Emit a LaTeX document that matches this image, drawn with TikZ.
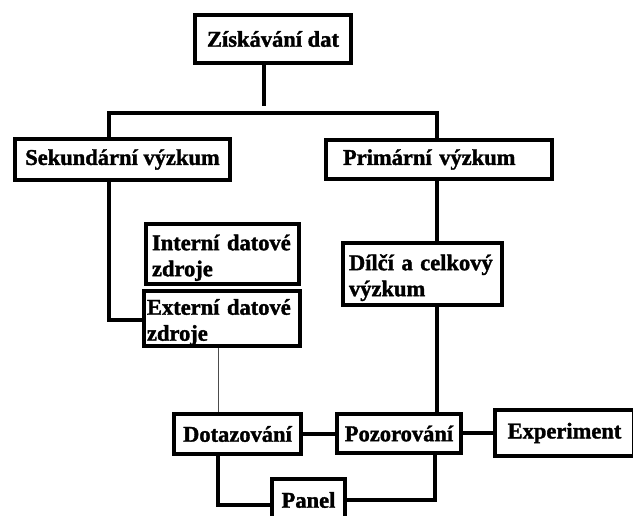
\documentclass[tikz,border=0pt]{standalone}
\usepackage{fontspec}
\setmainfont{Liberation Serif}[BoldFeatures={FakeBold=1.5}]
\newcommand\lowtext[1]{\raisebox{-4pt}[\height][\depth]{\begin{tabular}{@{}l@{}}#1\end{tabular}}}
\begin{document}
\begin{tikzpicture}[x=1pt,y=-1pt,
  box/.style={draw=black, line width=4pt, inner sep=0pt, font=\fontsize{22.5}{26}\selectfont\bfseries},
  lbox/.style={box, align=left},
  conn/.style={draw=black, line width=3.5pt},
  thinconn/.style={draw=black!70, line width=1pt}]
\useasboundingbox (0,0) rectangle (633,516);
% boxes
\node[box, minimum width=156pt, minimum height=48pt] (zisk) at (273,39) {Získávání dat};
\node[box, minimum width=215pt, minimum height=41pt] (sek) at (122.5,159.5) {Sekundární výzkum};
\node[lbox, minimum width=216pt, minimum height=39pt, text width=192pt, inner xsep=17pt] (prim) at (439,159.5) {Primární výzkum};
\node[lbox, minimum width=153pt, minimum height=60pt, text width=141pt, inner xsep=6pt] (int) at (222.5,254) {\lowtext{Interní datové\\zdroje}};
\node[lbox, minimum width=156pt, minimum height=55pt, text width=150pt, inner xsep=3pt] (ext) at (222,318.5) {\lowtext{Externí datové\\zdroje}};
\node[lbox, minimum width=159pt, minimum height=62pt, text width=147pt, inner xsep=6pt] (dil) at (422.5,274) {\lowtext{Dílčí a celkový\\výzkum}};
\node[box, minimum width=127pt, minimum height=40pt] (dot) at (237.5,434) {Dotazování};
\node[box, minimum width=124pt, minimum height=39pt] (poz) at (399,433.5) {Pozorování};
\node[box, minimum width=139pt, minimum height=46pt] (exp) at (564.5,433) {Experiment};
\node[box, minimum width=73pt, minimum height=42pt] (pan) at (308.5,500) {Panel};
% connectors
\coordinate (zbot) at (264,106);
\coordinate (hl) at (109,113);
\coordinate (hr) at (437,113);
\coordinate (sekturn) at (109,320);
\coordinate (dotturn) at (218,505);
\coordinate (pozturn) at (435,500);
\draw[conn] (zisk.south -| zbot) -- (zbot);
\draw[conn] (sek.north -| hl) -- (hl) -- (hr) -- (prim.north -| hr);
\draw[conn] (sek.south -| sekturn) -- (sekturn) -- (ext.west |- sekturn);
\draw[conn] (prim.south -| hr) -- (dil.north -| hr);
\draw[conn] (dil.south -| hr) -- (poz.north -| hr);
\draw[thinconn] (ext.south -| dotturn) -- (dot.north -| dotturn);
\draw[conn] (dot.east) -- (poz.west |- dot.east);
\draw[conn] (poz.east |- 0,433) -- (exp.west |- 0,433);
\draw[conn] (dot.south -| dotturn) -- (dotturn) -- (pan.west |- dotturn);
\draw[conn] (poz.south -| pozturn) -- (pozturn) -- (pan.east |- pozturn);
\end{tikzpicture}
\end{document}
